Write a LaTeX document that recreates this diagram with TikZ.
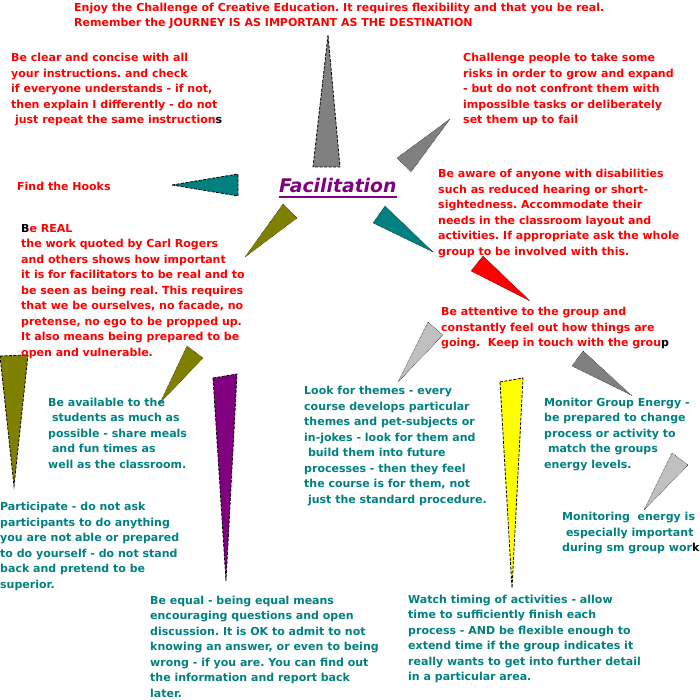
\documentclass[tikz,border=0pt]{standalone}
\usepackage{fontspec}
\setmainfont{DejaVu Sans}
\usetikzlibrary{positioning}
\definecolor{FacRed}{HTML}{FF0000}
\definecolor{FacTeal}{HTML}{008080}
\definecolor{FacPurple}{HTML}{800080}
\definecolor{FacOlive}{HTML}{808000}
\definecolor{FacGray}{HTML}{808080}
\definecolor{FacSilver}{HTML}{C0C0C0}
\definecolor{FacYellow}{HTML}{FFFF00}
\frenchspacing
\tikzset{
  note/.style={anchor=base west,inner sep=0pt,align=left,font=\fontsize{11}{15.5}\selectfont\bfseries},
  rednote/.style={note,text=FacRed},
  tealnote/.style={note,text=FacTeal},
  spike/.style={draw=black,line width=0.8pt,dash pattern=on 3pt off 1.5pt},
  tick/.style={draw=black,line width=0.5pt,densely dotted},
}

\begin{document}
\begin{tikzpicture}[x=1pt,y=-1pt]
  \useasboundingbox (0,0) rectangle (700,700);
  % centre word
  \node[anchor=base west,inner sep=0pt,text=FacPurple,font=\fontsize{18.8}{20}\selectfont\bfseries\itshape] (fac) at (279,193) {Facilitation};
  \draw[FacPurple,line width=1.6pt] ([yshift=-4pt]fac.base west) -- ([yshift=-4pt]fac.base east);
  % spikes round the centre
  \filldraw[spike,fill=FacGray] (328,35) -- (313,167) -- (340,167) -- cycle;
  \filldraw[spike,fill=FacTeal] (172,185) -- (238,174) -- (238,196) -- cycle;
  \filldraw[tick,fill=FacGray] (450,119) -- (397,158) -- (411,172) -- cycle;
  \filldraw[tick,fill=FacTeal] (433,252) -- (373,223) -- (385,206) -- cycle;
  \filldraw[tick,fill=FacRed] (530,301) -- (471,271) -- (483,256) -- cycle;
  \filldraw[tick,fill=FacSilver] (398,382) -- (428,322) -- (443,335) -- cycle;
  \filldraw[tick,fill=FacOlive] (245,257) -- (283,204) -- (297,218) -- cycle;
  \filldraw[tick,fill=FacOlive] (160,403) -- (187,346) -- (203,358) -- cycle;
  \filldraw[spike,fill=FacOlive] (0,356) -- (28,355) -- (14,486) -- cycle;
  \filldraw[spike,fill=FacPurple] (213,378) -- (237,374) -- (226,581) -- cycle;
  \filldraw[spike,fill=FacYellow] (500,382) -- (523,378) -- (512,588) -- cycle;
  \filldraw[tick,fill=FacGray] (583,351) -- (572,366) -- (631,395) -- cycle;
  \filldraw[tick,fill=FacSilver] (644,510) -- (672,453) -- (688,465) -- cycle;
  % the notes (placed at the baseline of their last line)
  \node[rednote] (enjoy) at (74,27) {Enjoy the Challenge of Creative Education. It requires flexibility and that you be real.\\
    Remember the JOURNEY IS AS IMPORTANT AS THE DESTINATION};
  \node[rednote] (clear) at (11,124) {Be clear and concise with all\\
    your instructions. and check\\
    if everyone understands - if not,\\
    then explain I differently - do not\\
    \ just repeat the same instruction\textcolor{black}{s}};
  \node[rednote] (risks) at (463,124) {Challenge people to take some\\
    risks in order to grow and expand\\
    - but do not confront them with\\
    impossible tasks or deliberately\\
    set them up to fail};
  \node[rednote] (hooks) at (17,190.7) {Find the Hooks};
  \node[rednote] (aware) at (438,255.2) {Be aware of anyone with disabilities\\
    such as reduced hearing or short-\\
    sightedness. Accommodate their\\
    needs in the classroom layout and\\
    activities. If appropriate ask the whole\\
    group to be involved with this.};
  \node[rednote] (real) at (21,356) {\textcolor{black}{B}e REAL\\
    the work quoted by Carl Rogers\\
    and others shows how important\\
    it is for facilitators to be real and to\\
    be seen as being real. This requires\\
    that we be ourselves, no facade, no\\
    pretense, no ego to be propped up.\\
    It also means being prepared to be\\
    open and vulnerable.};
  \node[rednote] (attentive) at (441,346.7) {Be attentive to the group and\\
    constantly feel out how things are\\
    going.\ \ Keep in touch with the grou\textcolor{black}{p}};
  \node[tealnote] (available) at (48,468.3) {Be available to the\\
    \ students as much as\\
    possible - share meals\\
    \ and fun times as\\
    well as the classroom.};
  \node[tealnote] (themes) at (304,503.2) {Look for themes - every\\
    course develops particular\\
    themes and pet-subjects or\\
    in-jokes - look for them and\\
    \ build them into future\\
    processes - then they feel\\
    the course is for them, not\\
    \ just the standard procedure.};
  \node[tealnote] (energy) at (544,468.3) {Monitor Group Energy -\\
    be prepared to change\\
    process or activity to\\
    \ match the groups\\
    energy levels.};
  \node[tealnote] (smgroup) at (562,551.7) {Monitoring\ \ energy is\\
    \ especially important\\
    during sm group wor\textcolor{black}{k}};
  \node[tealnote] (participate) at (0,588.2) {Participate - do not ask\\
    participants to do anything\\
    you are not able or prepared\\
    to do yourself - do not stand\\
    back and pretend to be\\
    superior.};
  \node[tealnote] (equal) at (150,697) {Be equal - being equal means\\
    encouraging questions and open\\
    discussion. It is OK to admit to not\\
    knowing an answer, or even to being\\
    wrong - if you are. You can find out\\
    the information and report back\\
    later.};
  \node[tealnote] (timing) at (408,680.5) {Watch timing of activities - allow\\
    time to sufficiently finish each\\
    process - AND be flexible enough to\\
    extend time if the group indicates it\\
    really wants to get into further detail\\
    in a particular area.};
\end{tikzpicture}
\end{document}
